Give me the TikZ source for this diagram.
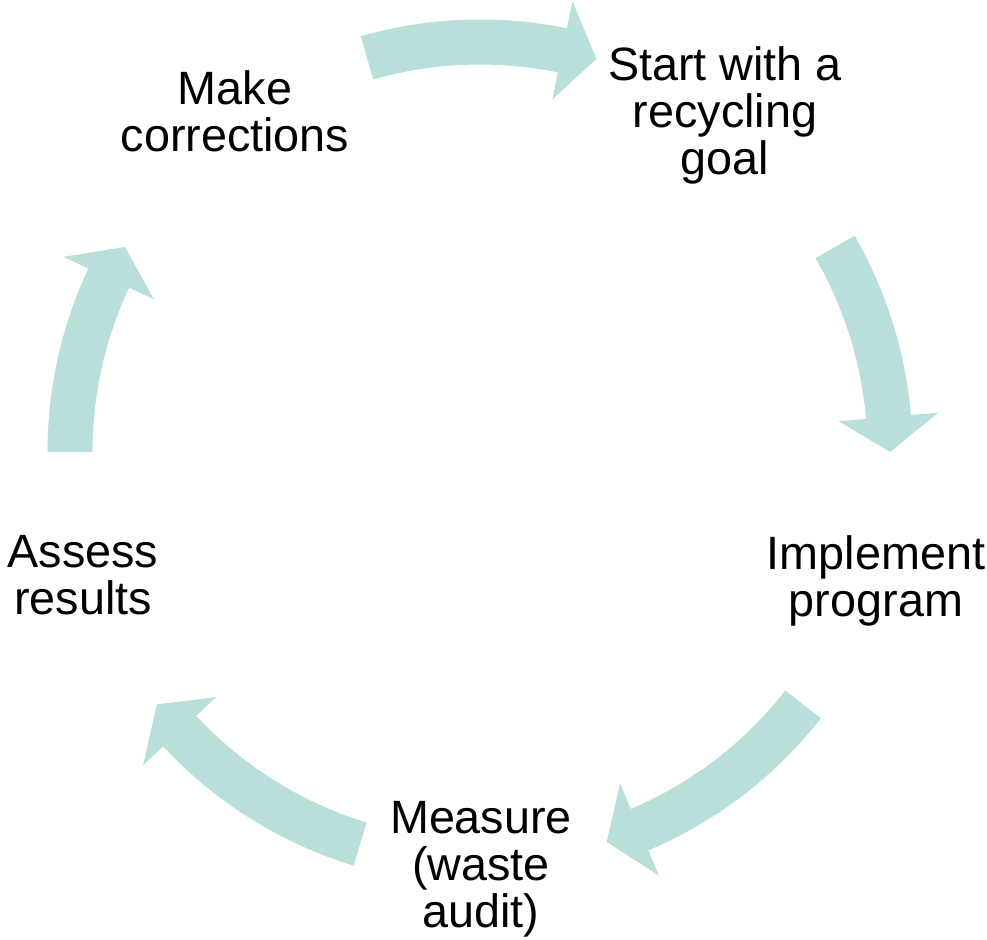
\documentclass[tikz,border=0pt]{standalone}
\usepackage{fontspec}
\setmainfont{Liberation Sans}
\definecolor{cyclefill}{RGB}{184,223,218}

\begin{document}
\begin{tikzpicture}[
    steptext/.style={align=center, anchor=base, font=\fontsize{26.6}{26.8}\selectfont},
    cyclearrow/.style={fill=cyclefill, draw=none}
]

    % Fix the page to the size of the reference
    \useasboundingbox (0,0) rectangle (19.74,18.8);

    % Define the center of the cycle
    \coordinate (O) at (9.6,9.76);

    % Draw the five curved block arrows (start angle / end angle / head base angle)
    \foreach \a/\b/\h in {106/73.5/78.4, 30/0/4.9, -38/-72/-67.1, -107/-142/-137.1, 180/150/154.9}{
        \fill[cyclearrow, shift={(O)}] (\a:8.65) arc[start angle=\a, end angle=\h, radius=8.65]
            -- (\h:9.2) -- (\b:8.2) -- (\h:7.2) -- (\h:7.75)
            arc[start angle=\h, end angle=\a, radius=7.75] -- cycle;
    }

    % Place the steps of the cycle (base = baseline of the last line)
    \node[steptext] (start) at (14.50,15.30) {Start with a\\recycling\\goal};
    \node[steptext] (implement) at (17.52,6.46) {Implement\\program};
    \node[steptext] (measure) at (9.62,0.24) {Measure\\(waste\\audit)};
    \node[steptext] (assess) at (1.66,6.50) {Assess\\results};
    \node[steptext] (make) at (4.70,15.76) {Make\\corrections};

\end{tikzpicture}
\end{document}
